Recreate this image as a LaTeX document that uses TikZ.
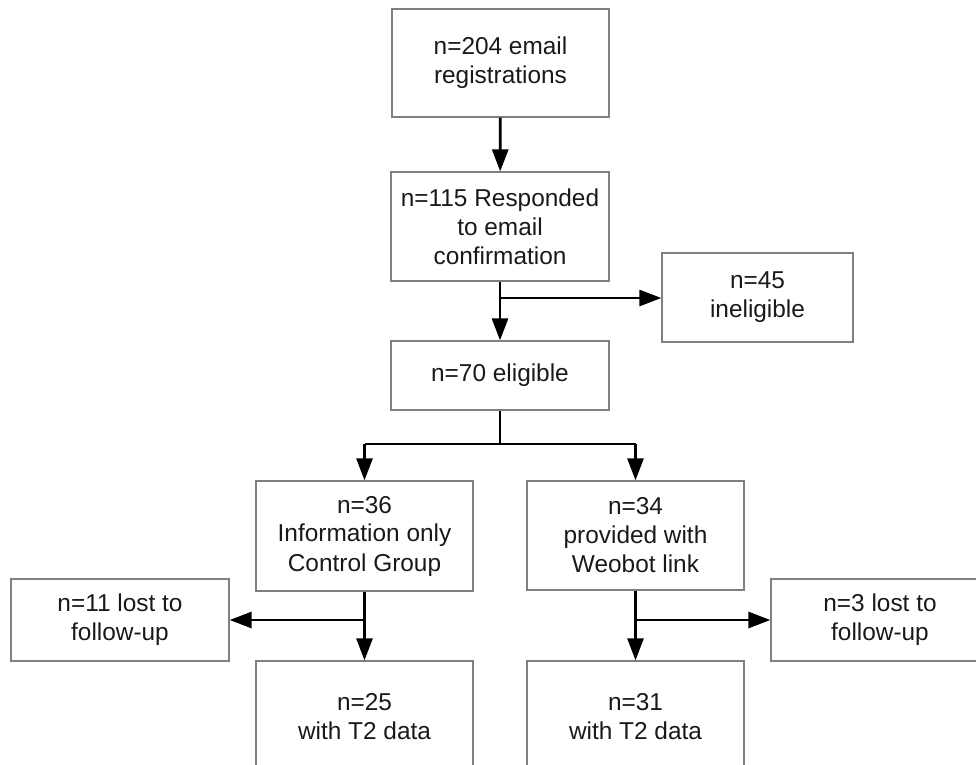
\documentclass[tikz,border=0pt]{standalone}
\usepackage{fontspec}
\setmainfont{Liberation Sans}
\usetikzlibrary{arrows.meta}
\begin{document}
\begin{tikzpicture}[x=1pt,y=-1pt,
  box/.style={draw=black!50, line width=1.3pt, align=center, inner sep=0pt,
    font=\fontsize{24.4}{29}\selectfont, text=black!90},
  conn/.style={line width=2.8pt, -{Triangle[length=22pt,width=16pt]}},
  seg/.style={line width=2.8pt}]
\useasboundingbox (0,0) rectangle (976,764);
\clip (0,0) rectangle (976,764);
\node[box, minimum width=217pt, minimum height=108pt] (b1) at (500.5,63) {n=204 email\\registrations};
\node[box, minimum width=218pt, minimum height=109pt] (b2) at (500,226.5) {n=115 Responded\\to email\\confirmation};
\node[box, minimum width=191pt, minimum height=89pt] (inel) at (757.5,297.5) {n=45\\ineligible};
\node[box, minimum width=218pt, minimum height=69pt] (b3) at (500,375.5) {n=70 eligible};
\node[box, minimum width=217pt, minimum height=110pt] (b4) at (364.5,536) {n=36\\Information only\\Control Group};
\node[box, minimum width=217pt, minimum height=109pt] (b5) at (635.5,535.5) {n=34\\provided with\\Weobot link};
\node[box, minimum width=218pt, minimum height=82pt] (lostl) at (120,620) {n=11 lost to\\follow-up};
\node[box, minimum width=218pt, minimum height=82pt] (lostr) at (880,620) {n=3 lost to\\follow-up};
\node[box, minimum width=217pt, minimum height=111pt] (b6) at (364.5,716.5) {n=25\\with T2 data};
\node[box, minimum width=217pt, minimum height=111pt] (b7) at (635.5,716.5) {n=31\\with T2 data};
\coordinate (j1) at (500,298);
\coordinate (j2) at (500,444);
\coordinate (j2l) at (364.5,444);
\coordinate (j2r) at (635.5,444);
\coordinate (j3) at (364.5,620);
\coordinate (j4) at (635.5,620);
\draw[conn] (b1) -- (b2);
\draw[conn] (b2) -- (b3);
\draw[conn] (j1) -- (j1 -| inel.west);
\draw[seg] (b3.south) -- (j2);
\draw[seg] (j2l) -- (j2r);
\draw[conn] (j2l) -- (b4.north);
\draw[conn] (j2r) -- (b5.north);
\draw[conn] (b4) -- (b6);
\draw[conn] (j3) -- (j3 -| lostl.east);
\draw[conn] (b5) -- (b7);
\draw[conn] (j4) -- (j4 -| lostr.west);
\end{tikzpicture}
\end{document}
